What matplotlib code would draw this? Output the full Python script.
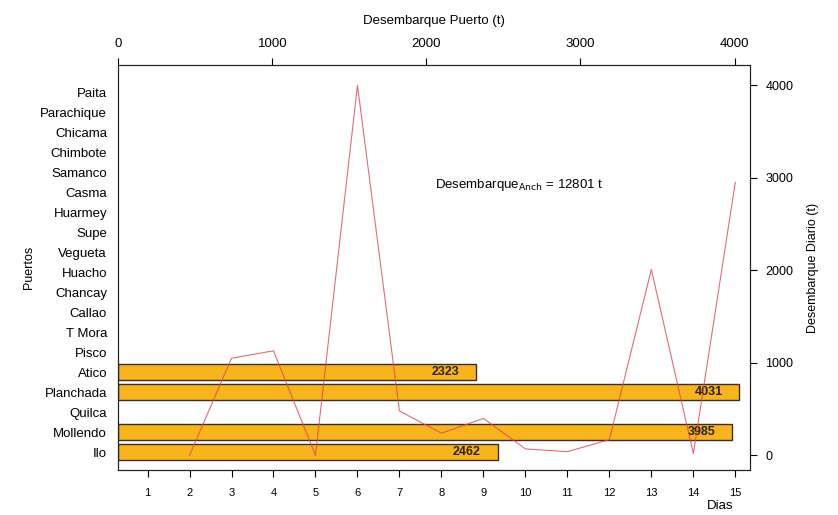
import matplotlib
matplotlib.use('Agg')
import matplotlib.pyplot as plt

plt.rcParams['font.family'] = ['Liberation Sans', 'DejaVu Sans']

# Puertos (de arriba hacia abajo) y desembarque por puerto (t)
puertos = ['Paita', 'Parachique', 'Chicama', 'Chimbote', 'Samanco', 'Casma',
           'Huarmey', 'Supe', 'Vegueta', 'Huacho', 'Chancay', 'Callao',
           'T Mora', 'Pisco', 'Atico', 'Planchada', 'Quilca', 'Mollendo', 'Ilo']
desemb_puerto = [0, 0, 0, 0, 0, 0, 0, 0, 0, 0, 0, 0, 0, 0, 2323, 4031, 0, 3985, 2462]

# Desembarque diario (t); el dia 1 no se ve en la linea
dias = list(range(1, 16))
desemb_diario = [float('nan'), 0, 1050, 1130, 0, 4000, 480, 240, 400, 70, 40, 170,
                 2010, 20, 2950]

total = sum(desemb_puerto)

fig = plt.figure(figsize=(8.38, 5.15), dpi=100)
pos = [0.141, 0.087, 0.754, 0.787]

# Barras por puerto
ax = fig.add_axes(pos)
n = len(puertos)
ypos = [n - i for i in range(n)]
con_datos = [(y, v) for y, v in zip(ypos, desemb_puerto) if v > 0]
ax.barh([y for y, v in con_datos], [v for y, v in con_datos], height=0.8,
        color='#f7b41d', edgecolor='#3a3020', linewidth=1.0, zorder=2)
for y, v in con_datos:
    ax.text(v - 110, y, str(v), ha='right', va='center', fontsize=9,
            fontweight='bold', color='#2a2010', zorder=3)
ax.set_xlim(0, 4100)
ax.set_ylim(0.1, n + 1.4)
ax.xaxis.tick_top()
ax.xaxis.set_label_position('top')
ax.set_xticks([0, 1000, 2000, 3000, 4000])
ax.set_xlabel('Desembarque Puerto (t)', fontsize=9.5, labelpad=10)
ax.set_yticks(ypos)
ax.set_yticklabels(puertos, fontsize=9.5)
ax.tick_params(axis='y', length=0, pad=8)
ax.tick_params(axis='x', direction='out', length=5, labelsize=9.5, pad=6)
ax.set_ylabel('Puertos', fontsize=9)
for s in ax.spines.values():
    s.set_color('#222222')

# Linea diaria
ax2 = fig.add_axes(pos, facecolor='none')
ax2.plot(dias, desemb_diario, color='#e04656', linewidth=0.8, alpha=0.8, zorder=4)
ax2.set_xlim(0.3, 15.35)
ax2.set_ylim(-160, 4220)
ax2.set_xticks(dias)
ax2.tick_params(axis='x', direction='out', length=5, labelsize=8, pad=8)
ax2.yaxis.tick_right()
ax2.yaxis.set_label_position('right')
ax2.set_yticks([0, 1000, 2000, 3000, 4000])
ax2.tick_params(axis='y', direction='out', length=5, labelsize=9, pad=6)
ax2.set_ylabel('Desembarque Diario (t)', fontsize=9, labelpad=10)
for s in ax2.spines.values():
    s.set_color('#222222')
fig.text(720 / 838, 1 - 506 / 515, 'Dias', ha='center', va='center', fontsize=9.5)

ax2.text(9.85, 2920, r'Desembarque$_{\mathrm{Anch}}$ = ' + f'{total} t',
         ha='center', va='center', fontsize=9.5)

fig.savefig('out.png', dpi=100)
